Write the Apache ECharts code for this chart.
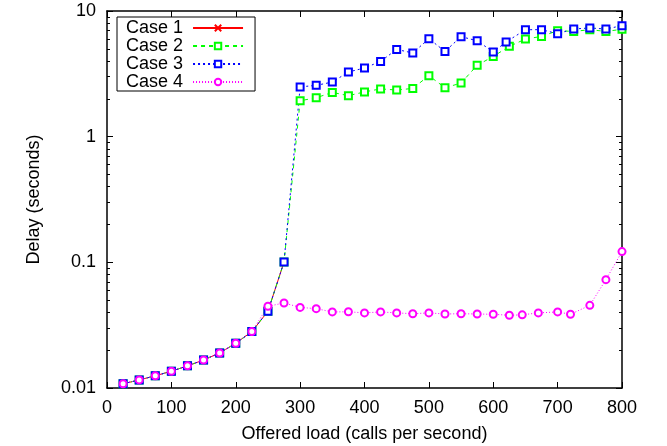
<!DOCTYPE html>
<html>
<head>
<meta charset="utf-8">
<script src="https://cdn.jsdelivr.net/npm/echarts@6/dist/echarts.min.js"></script>
<style>
  html, body { margin: 0; padding: 0; background: #fff; }
  #chart { width: 667px; height: 446px; }
</style>
</head>
<body>
<div id="chart"></div>
<script>
// offered load (calls per second)
const loadsLow = [25, 50, 75, 100, 125, 150, 175, 200, 225, 250, 275]
const delayLow = [0.0108, 0.0116, 0.0125, 0.0136, 0.015, 0.0167, 0.019, 0.0227, 0.0281, 0.0408, 0.1007]

const loads2 = [300, 325, 350, 375, 400, 425, 450, 475, 500, 525, 550, 575, 600, 625, 650, 675, 700, 725, 750, 775, 800]
const delay2 = [1.93, 2.04, 2.25, 2.12, 2.27, 2.4, 2.35, 2.42, 3.06, 2.45, 2.67, 3.7, 4.35, 5.23, 5.98, 6.28, 6.97, 6.88, 7.1, 6.88, 7.15]

const loads3 = [300, 325, 350, 375, 400, 425, 450, 475, 500, 525, 550, 575, 600, 620, 650, 675, 700, 725, 750, 775, 800]
const delay3 = [2.49, 2.56, 2.72, 3.27, 3.52, 3.97, 4.95, 4.63, 6.02, 4.77, 6.25, 5.8, 4.72, 5.67, 7.1, 7.1, 6.6, 7.19, 7.33, 7.19, 7.64]

const loads4 = [25, 50, 75, 100, 125, 150, 175, 200, 225, 250, 275, 300, 325, 350, 375, 400, 425, 450, 475, 500, 525, 550, 575, 600, 625, 645, 670, 700, 720, 750, 775, 800]
const delay4 = [0.0108, 0.0116, 0.0125, 0.0136, 0.015, 0.0167, 0.019, 0.0227, 0.0281, 0.0447, 0.0475,
  0.0438, 0.0428, 0.0403, 0.0404, 0.0396, 0.0403, 0.0396, 0.039, 0.0396, 0.0388, 0.039, 0.0388, 0.0386,
  0.0379, 0.0382, 0.0396, 0.0403, 0.0386, 0.0455, 0.0728, 0.1217]

const yMajor = [0.01, 0.1, 1, 10]
const yMinor = [0.02, 0.03, 0.04, 0.05, 0.06, 0.07, 0.08, 0.09,
  0.2, 0.3, 0.4, 0.5, 0.6, 0.7, 0.8, 0.9, 2, 3, 4, 5, 6, 7, 8, 9]

const zip = (xs, ys) => xs.map((x, i) => [x, ys[i]])

const font = 'Liberation Sans, Arial, sans-serif'
const fs = 18

const chart = echarts.init(document.getElementById('chart'))

const yBase = {
  type: 'log',
  min: 0.01,
  max: 10,
  logBase: 10,
  splitLine: { show: false }
}

const option = {
  animation: false,
  backgroundColor: '#fff',
  grid: { left: 107, right: 45, top: 11, bottom: 58, outerBoundsMode: 'none' },
  legend: {
    orient: 'vertical',
    left: 117,
    top: 17,
    align: 'right',
    backgroundColor: '#fff',
    borderColor: '#000',
    borderWidth: 1,
    borderRadius: 0,
    padding: [2, 11, 0, 9],
    itemGap: 0,
    itemWidth: 50,
    itemHeight: 8,
    textStyle: { fontFamily: font, fontSize: fs, lineHeight: 17.2, color: '#000', padding: [0, 5, 0, 0] },
    data: ['Case 1', 'Case 2', 'Case 3', 'Case 4']
  },
  xAxis: [
    {
      type: 'value',
      min: 0,
      max: 800,
      interval: 100,
      name: 'Offered load (calls per second)',
      nameLocation: 'middle',
      nameGap: 37,
      nameTextStyle: { fontFamily: font, fontSize: fs, color: '#000' },
      axisLine: { lineStyle: { color: '#000', width: 1.5 } },
      axisTick: { inside: true, length: 6, lineStyle: { color: '#000' } },
      axisLabel: { fontFamily: font, fontSize: fs, color: '#000', margin: 11 },
      splitLine: { show: false }
    },
    {
      type: 'value',
      min: 0,
      max: 800,
      interval: 100,
      position: 'top',
      axisLine: { lineStyle: { color: '#000', width: 1.5 } },
      axisTick: { inside: true, length: 6, lineStyle: { color: '#000' } },
      axisLabel: { show: false },
      splitLine: { show: false }
    }
  ],
  yAxis: [
    Object.assign({}, yBase, {
      position: 'left',
      name: 'Delay (seconds)',
      nameLocation: 'middle',
      nameGap: 64,
      nameTextStyle: { fontFamily: font, fontSize: fs, color: '#000' },
      axisLine: { show: true, lineStyle: { color: '#000', width: 1.5 } },
      axisTick: { show: true, inside: true, length: 6, customValues: yMajor, lineStyle: { color: '#000' } },
      axisLabel: { fontFamily: font, fontSize: fs, color: '#000', margin: 11, customValues: yMajor,
        formatter: v => String(+v.toPrecision(3)) }
    }),
    Object.assign({}, yBase, {
      position: 'left',
      axisLine: { show: false },
      axisTick: { show: true, inside: true, length: 3, customValues: yMinor, lineStyle: { color: '#000' } },
      axisLabel: { show: false }
    }),
    Object.assign({}, yBase, {
      position: 'right',
      axisLine: { show: true, lineStyle: { color: '#000', width: 1.5 } },
      axisTick: { show: true, inside: true, length: 6, customValues: yMajor, lineStyle: { color: '#000' } },
      axisLabel: { show: false }
    }),
    Object.assign({}, yBase, {
      position: 'right',
      axisLine: { show: false },
      axisTick: { show: true, inside: true, length: 3, customValues: yMinor, lineStyle: { color: '#000' } },
      axisLabel: { show: false }
    })
  ],
  series: [
    {
      name: 'Case 1',
      type: 'line',
      data: zip(loadsLow, delayLow),
      symbol: 'path://M0,0L10,10M10,0L0,10',
      symbolSize: 7,
      lineStyle: { color: '#ff0000', width: 1 },
      itemStyle: { color: 'none', borderColor: '#ff0000', borderWidth: 1.5 }
    },
    {
      name: 'Case 2',
      type: 'line',
      data: zip(loadsLow, delayLow).concat(zip(loads2, delay2)),
      symbol: 'emptyRect',
      symbolSize: 7,
      lineStyle: { color: '#00ff00', width: 1, type: [4, 4] },
      itemStyle: { color: '#00ff00', borderColor: '#00ff00', borderWidth: 1.5 }
    },
    {
      name: 'Case 3',
      type: 'line',
      data: zip(loadsLow, delayLow).concat(zip(loads3, delay3)),
      symbol: 'emptyRect',
      symbolSize: 7,
      lineStyle: { color: '#0000ff', width: 1, type: [2, 3] },
      itemStyle: { color: '#0000ff', borderColor: '#0000ff', borderWidth: 1.5 }
    },
    {
      name: 'Case 4',
      type: 'line',
      data: zip(loads4, delay4),
      symbol: 'emptyCircle',
      symbolSize: 7,
      lineStyle: { color: '#ff00ff', width: 1, type: [1, 2] },
      itemStyle: { color: '#ff00ff', borderColor: '#ff00ff', borderWidth: 1.5 }
    }
  ]
}

chart.setOption(option)
</script>
</body>
</html>
